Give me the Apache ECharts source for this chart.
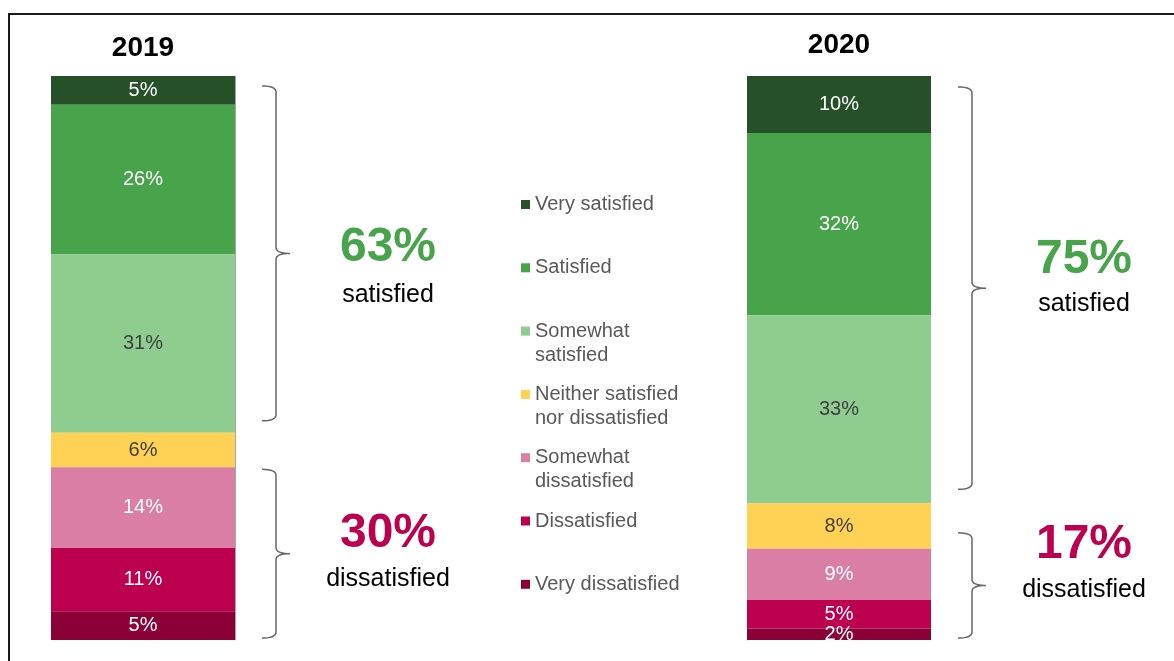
<!DOCTYPE html>
<html>
<head>
<meta charset="utf-8">
<title>Satisfaction 2019 vs 2020</title>
<script src="https://cdn.jsdelivr.net/npm/echarts@6/dist/echarts.min.js"></script>
<style>
  html, body { margin: 0; padding: 0; background: #fff; }
  #chart { width: 1174px; height: 661px; }
</style>
</head>
<body>
<div id="chart"></div>
<script>
// data
const years = ['2019', '2020'];
const categories = ['Very satisfied', 'Satisfied', 'Somewhat satisfied', 'Neither satisfied nor dissatisfied', 'Somewhat dissatisfied', 'Dissatisfied', 'Very dissatisfied'];
const legendLabels = ['Very satisfied', 'Satisfied', 'Somewhat\nsatisfied', 'Neither satisfied\nnor dissatisfied', 'Somewhat\ndissatisfied', 'Dissatisfied', 'Very dissatisfied'];
const values2019 = [5, 26, 31, 6, 14, 11, 5];
const values2020 = [10, 32, 33, 8, 9, 5, 2];
const satisfiedShare = ['63%', '75%'];
const dissatisfiedShare = ['30%', '17%'];

const colors = ['#265128', '#48a44a', '#8ecc8f', '#ffd155', '#da7ea5', '#bc004f', '#8b0037'];
const labelColors = ['#fff', '#fff', '#404040', '#404040', '#fff', '#fff', '#fff'];
const FONT = '"Liberation Sans", Arial, sans-serif';

const valuesByYear = [values2019, values2020];
const gridLefts = [51, 747];
const BAR_W = 184;

const chart = echarts.init(document.getElementById('chart'));

// one stacked 100% bar per grid, labels keep the raw numbers
const series = [];
valuesByYear.forEach((vals, g) => {
  const total = vals.reduce((a, b) => a + b, 0);
  vals.forEach((v, i) => {
    series.push({
      name: categories[i],
      type: 'bar',
      stack: 'y' + years[g],
      xAxisIndex: g,
      yAxisIndex: g,
      barWidth: '100%',
      data: [v / total * 100],
      itemStyle: { color: colors[i] },
      label: {
        show: true,
        position: 'inside',
        formatter: () => v + '%',
        color: labelColors[i],
        fontSize: 20,
        fontFamily: FONT
      },
      emphasis: { disabled: true }
    });
  });
});

// legend: one component per item; two-line labels get a blank first line
// so the icon sits level with the first written line
const legendFirstLine = 204.5, legendStep = 63.3;
const legends = categories.map((name, i) => {
  const twoLine = legendLabels[i].indexOf('\n') >= 0;
  const c = legendFirstLine + i * legendStep;
  return {
    data: [name],
    orient: 'vertical',
    left: 521,
    top: twoLine ? c - 36 : c - 12,
    padding: 0,
    itemWidth: 9,
    itemHeight: 9,
    icon: 'rect',
    selectedMode: false,
    formatter: () => twoLine ? ' \n' + legendLabels[i] : legendLabels[i],
    textStyle: {
      fontSize: 20,
      lineHeight: 24,
      color: '#595959',
      fontFamily: FONT
    }
  };
});

const option = {
  animation: false,
  legend: legends,
  grid: gridLefts.map(l => ({ left: l, top: 76, width: BAR_W, height: 564 })),
  xAxis: years.map((yr, g) => ({
    type: 'category',
    gridIndex: g,
    data: [yr],
    position: 'top',
    axisLine: { show: false },
    axisTick: { show: false },
    axisLabel: {
      fontSize: 28,
      fontWeight: 'bold',
      color: '#000',
      fontFamily: FONT,
      margin: g === 0 ? 14 : 17
    }
  })),
  yAxis: years.map((yr, g) => ({
    type: 'value',
    gridIndex: g,
    inverse: true,
    min: 0,
    max: 100,
    position: g === 0 ? 'right' : 'left',
    axisLine: { show: true, lineStyle: { color: '#a6a6a6', width: 1 } },
    axisTick: { show: false },
    axisLabel: { show: false },
    splitLine: { show: false }
  })),
  series: series
};
chart.setOption(option);

// braces and summary text placed from the bar geometry
function quad(p0, p1, p2, pts) {
  for (let s = 1; s <= 8; s++) {
    const t = s / 8, u = 1 - t;
    pts.push([u * u * p0[0] + 2 * u * t * p1[0] + t * t * p2[0],
              u * u * p0[1] + 2 * u * t * p1[1] + t * t * p2[1]]);
  }
}
function bracePoints(x0, yTop, yBot) {
  const x1 = x0 + 14, x2 = x1 + 14, r = 6;
  const yMid = (yTop + yBot) / 2;
  const pts = [[x0, yTop]];
  quad([x0, yTop], [x1, yTop], [x1, yTop + r], pts);
  pts.push([x1, yMid - r]);
  quad([x1, yMid - r], [x1, yMid], [x2, yMid], pts);
  quad([x2, yMid], [x1, yMid], [x1, yMid + r], pts);
  pts.push([x1, yBot - r]);
  quad([x1, yBot - r], [x1, yBot], [x0, yBot], pts);
  return pts;
}

const braceInsets = [[[10, 12], [2, 2]], [[11, 14], [-16, 2]]];
const bigY = [[248, 534], [260, 545]];
const wordY = [[295, 579], [304, 590]];

const graphics = [{
  type: 'rect',
  shape: { x: 9, y: 14, width: 1200, height: 700 },
  style: { fill: 'none', stroke: '#1a1a1a', lineWidth: 2 },
  silent: true
}];

years.forEach((yr, g) => {
  const vals = valuesByYear[g];
  const total = vals.reduce((a, b) => a + b, 0);
  const cum = k => vals.slice(0, k).reduce((a, b) => a + b, 0) / total * 100;
  const toY = v => chart.convertToPixel({ yAxisIndex: g }, v);
  const cx = chart.convertToPixel({ xAxisIndex: g }, yr);
  const barRight = cx + BAR_W / 2;
  const spans = [[toY(0), toY(cum(3))], [toY(cum(4)), toY(100)]];
  const big = [satisfiedShare[g], dissatisfiedShare[g]];
  const words = ['satisfied', 'dissatisfied'];
  const bigColors = ['#48a44a', '#bc004f'];

  spans.forEach((s, k) => {
    const ins = braceInsets[g][k];
    graphics.push({
      type: 'polyline',
      shape: { points: bracePoints(barRight + 27, s[0] + ins[0], s[1] - ins[1]) },
      style: { fill: null, stroke: '#666', lineWidth: 1.5 },
      silent: true
    });
    graphics.push({
      type: 'text',
      x: barRight + 153,
      y: bigY[g][k],
      style: {
        text: big[k], fill: bigColors[k], fontSize: 48, fontWeight: 'bold',
        fontFamily: FONT, align: 'center', verticalAlign: 'middle'
      },
      silent: true
    });
    graphics.push({
      type: 'text',
      x: barRight + 153,
      y: wordY[g][k],
      style: {
        text: words[k], fill: '#000', fontSize: 25,
        fontFamily: FONT, align: 'center', verticalAlign: 'middle'
      },
      silent: true
    });
  });
});

chart.setOption({ graphic: graphics });
</script>
</body>
</html>
